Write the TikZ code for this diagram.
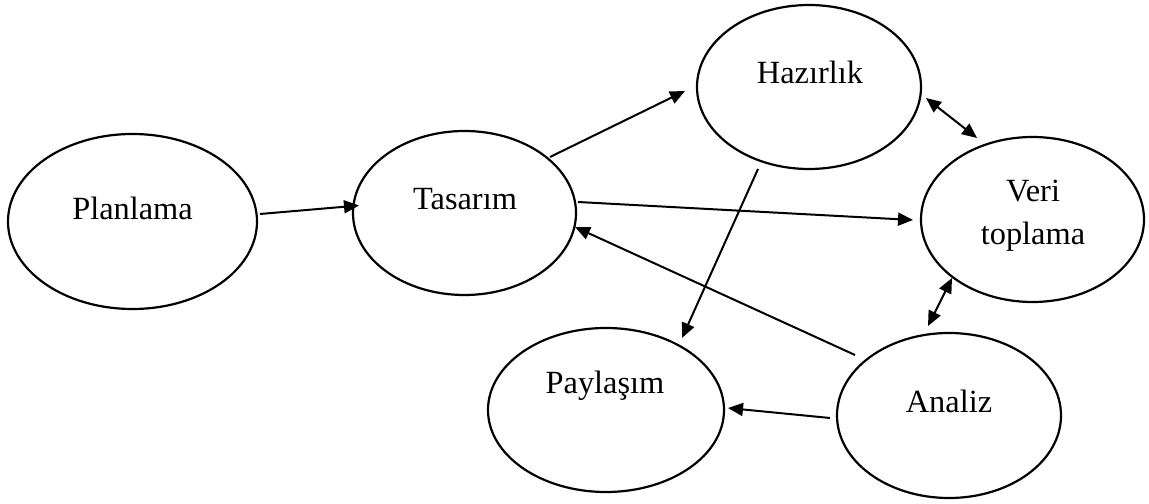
\documentclass[tikz,border=0pt]{standalone}
\usepackage{fontspec}
\setmainfont{Liberation Serif}
\usetikzlibrary{shapes.geometric,arrows.meta,calc}
\begin{document}
\begin{tikzpicture}[x=1bp,y=-1bp,
  ell/.style={ellipse,draw,line width=2.2bp,inner sep=0pt},
  lbl/.style={inner sep=0pt,anchor=base,font=\fontsize{32.5}{43}\selectfont},
  arr/.style={line width=2bp,-{Triangle[length=15bp,width=13bp]}},
  darr/.style={line width=2bp,{Triangle[length=15bp,width=13bp]}-{Triangle[length=15bp,width=13bp]}}]
\useasboundingbox (0,0) rectangle (1149,504);
\node[ell,minimum width=249bp,minimum height=175bp] (pl) at (132.5,221.5) {};
\node[ell,minimum width=223bp,minimum height=164bp] (ta) at (464.5,213) {};
\node[ell,minimum width=224bp,minimum height=164bp] (hz) at (809,87) {};
\node[ell,minimum width=223bp,minimum height=165bp] (vt) at (1032.5,219.5) {};
\node[ell,minimum width=236bp,minimum height=164bp] (pa) at (606,410) {};
\node[ell,minimum width=224bp,minimum height=165bp] (an) at (949,415.5) {};
\node[lbl] (plt) at (132.5,219.5) {Planlama};
\node[lbl] (tat) at (465,209.5) {Tasarım};
\node[lbl] (hzt) at (810,83.5) {Hazırlık};
\node[lbl,anchor=north,align=center] (vtt) at (1033,180) {Veri\\toplama};
\node[lbl] (pat) at (605,393.5) {Paylaşım};
\node[lbl] (ant) at (949,412.7) {Analiz};
\draw[arr] ($(pl)+(127.5,-7.5)$) -- ($(ta)+(-105.5,-7.5)$);
\draw[arr] ($(ta)+(85.5,-56)$) -- ($(hz)+(-124,4)$);
\draw[arr] ($(ta)+(113.5,-11)$) -- ($(vt)+(-119.5,0.5)$);
\draw[arr] ($(an)+(-94,-60.5)$) -- ($(ta)+(110.5,14)$);
\draw[arr] ($(hz)+(-51,82)$) -- ($(pa)+(76,-72)$);
\draw[darr] ($(hz)+(117,11)$) -- ($(vt)+(-55.5,-81.5)$);
\draw[darr] ($(vt)+(-80.5,58.5)$) -- ($(an)+(-21,-89.5)$);
\draw[arr] ($(an)+(-119,2.5)$) -- ($(pa)+(122,-2)$);
\end{tikzpicture}
\end{document}
